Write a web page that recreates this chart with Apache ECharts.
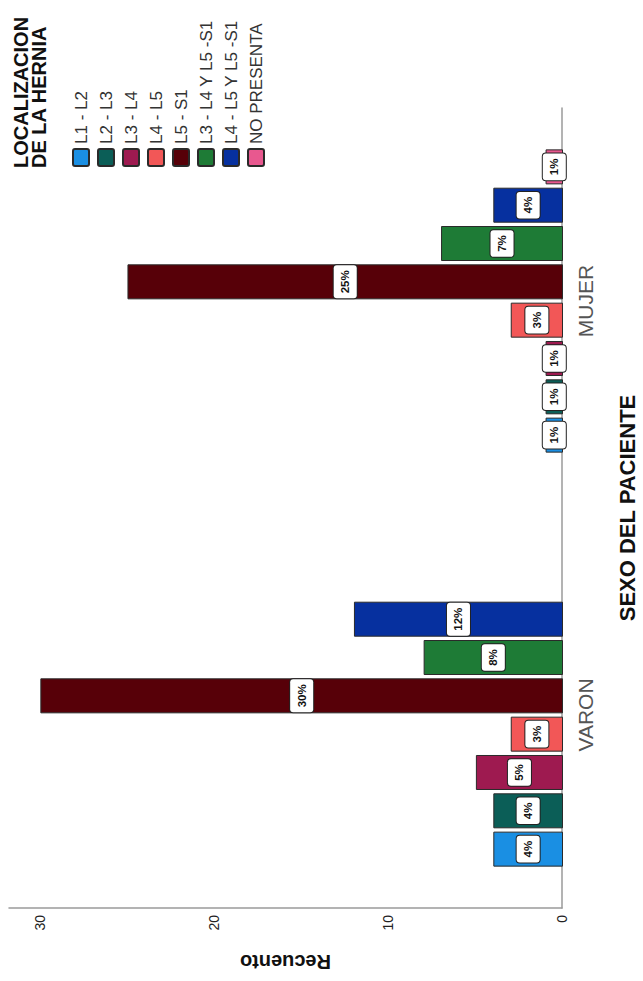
<!DOCTYPE html>
<html>
<head>
<meta charset="utf-8">
<script src="https://cdn.jsdelivr.net/npm/echarts@6/dist/echarts.min.js"></script>
<style>
  html, body { margin: 0; padding: 0; background: #fff; }
  #page { position: relative; width: 643px; height: 981px; overflow: hidden; background: #fff; }
  /* the chart is laid out landscape and turned a quarter turn counter-clockwise */
  #chart {
    position: absolute; left: 0; top: 0;
    width: 981px; height: 643px;
    transform-origin: 0 0;
    transform: translate(0, 981px) rotate(-90deg);
  }
</style>
</head>
<body>
<div id="page"><div id="chart"></div></div>
<script>
// patient sex groups
const categories = ['VARON', 'MUJER'];

// hernia locations (one bar series each)
const locations = [
  'L1 - L2', 'L2 - L3', 'L3 - L4', 'L4 - L5', 'L5 - S1',
  'L3 - L4 Y L5 -S1', 'L4 - L5 Y L5 -S1', 'NO PRESENTA'
];

// counts per location, men and women
const varonCounts = [4, 4, 5, 3, 30, 8, 12, null];
const mujerCounts = [1, 1, 1, 3, 25, 7, 4, 1];

const locationColors = [
  '#1a8fe3', '#0b5e57', '#9e1a50', '#f25757',
  '#570008', '#1e7b36', '#06309f', '#e8588f'
];

// value axis
const valueTicks = [0, 10, 20, 30];
const valueMax = 31.8;

const FONT = 'Arial, "Liberation Sans", Helvetica, sans-serif';

// small rounded square used for the legend keys
const KEY_ICON = 'path://M2,0 H15 Q17,0 17,2 V14 Q17,16 15,16 H2 Q0,16 0,14 V2 Q0,0 2,0 Z';

const series = locations.map((name, i) => ({
  name: name,
  type: 'bar',
  xAxisIndex: 1,
  yAxisIndex: 1,
  data: [varonCounts[i], mujerCounts[i]],
  barWidth: 35,
  barGap: '9.5%',
  itemStyle: { color: locationColors[i], borderColor: '#2a2a2a', borderWidth: 1 },
  label: {
    show: true,
    position: 'inside',
    formatter: p => (p.value == null ? '' : p.value + '%'),
    fontFamily: FONT,
    fontSize: 11.5,
    fontWeight: 'bold',
    color: '#111',
    backgroundColor: '#fff',
    borderColor: '#222',
    borderWidth: 1,
    borderRadius: 3,
    padding: [6, 5, 5, 5]
  }
}));

const chart = echarts.init(document.getElementById('chart'), null, { renderer: 'svg' });
chart.setOption({
  animation: false,
  backgroundColor: '#fff',
  title: {
    text: 'LOCALIZACION\nDE LA HERNIA',
    left: 813,
    top: 12,
    padding: 0,
    textStyle: { fontFamily: FONT, fontSize: 20, fontWeight: 'bold', color: '#111', lineHeight: 18 }
  },
  legend: {
    orient: 'vertical',
    left: 814,
    top: 72,
    padding: 0,
    itemWidth: 17,
    itemHeight: 16,
    itemGap: 7,
    icon: KEY_ICON,
    data: locations,
    textStyle: { fontFamily: FONT, fontSize: 17, color: '#333' }
  },
  grid: [
    { left: 73, right: 108, top: 9, bottom: 80 },
    { left: 59, right: 94, top: 9, bottom: 80 }
  ],
  xAxis: [
    {
      gridIndex: 0,
      type: 'category',
      data: categories,
      axisLine: { show: true, lineStyle: { color: '#9a9a9a', width: 1.5 } },
      axisTick: { show: false },
      axisLabel: { show: false },
      name: 'SEXO DEL PACIENTE',
      nameLocation: 'middle',
      nameGap: 54,
      nameTextStyle: { fontFamily: FONT, fontSize: 22, fontWeight: 'bold', color: '#111' }
    },
    {
      gridIndex: 1,
      type: 'category',
      data: categories,
      axisLine: { show: false },
      axisTick: { show: false },
      axisLabel: { show: true, margin: 12, fontFamily: FONT, fontSize: 21, color: '#555' }
    }
  ],
  yAxis: [
    {
      gridIndex: 0,
      type: 'value',
      min: 0,
      max: valueMax,
      interval: 10,
      axisLine: { show: true, lineStyle: { color: '#9a9a9a', width: 1.5 } },
      axisTick: { show: false },
      splitLine: { show: false },
      axisLabel: {
        show: true,
        margin: 7,
        showMaxLabel: false,
        fontFamily: FONT,
        fontSize: 14,
        color: '#222',
        formatter: v => (valueTicks.includes(v) ? String(v) : '')
      },
      name: 'Recuento',
      nameLocation: 'middle',
      nameRotate: 90,
      nameGap: 44,
      nameTextStyle: { fontFamily: FONT, fontSize: 20, fontWeight: 'bold', color: '#111' }
    },
    {
      gridIndex: 1,
      type: 'value',
      min: 0,
      max: valueMax,
      show: false
    }
  ],
  series: series
});
</script>
</body>
</html>
